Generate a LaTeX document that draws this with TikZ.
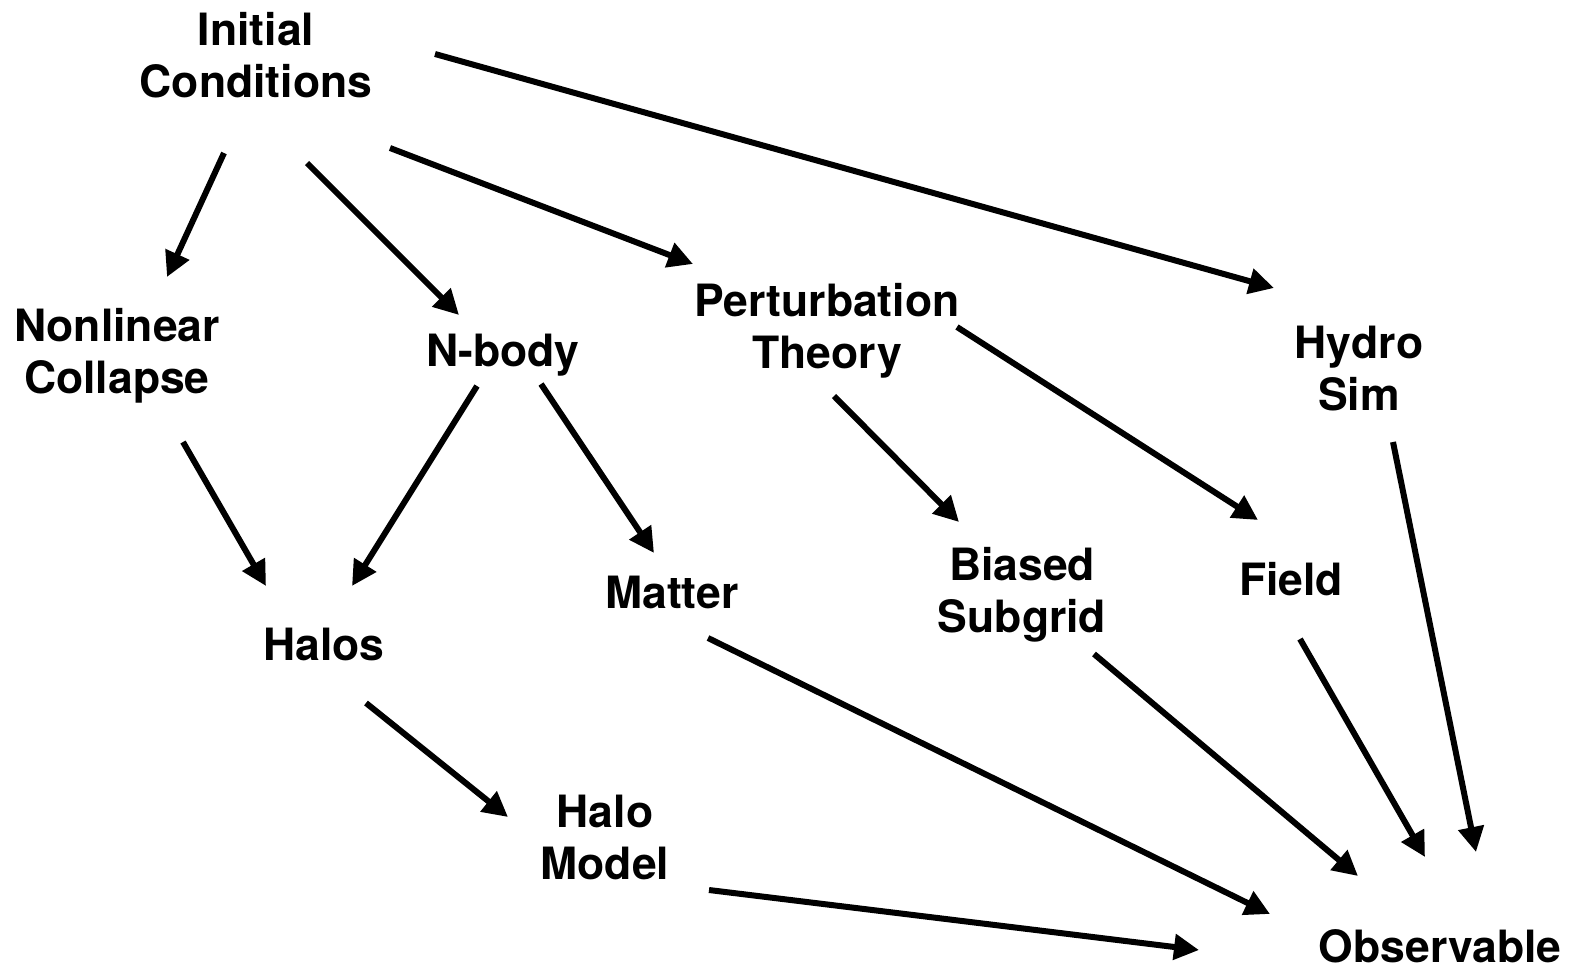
\documentclass[tikz,border=0pt]{standalone}
\usepackage{fontspec}
\setmainfont{TeX Gyre Heros}
\usetikzlibrary{arrows.meta}
\begin{document}
\begin{tikzpicture}[x=1pt,y=-1pt,
  lbl/.style={font=\fontsize{44.5}{52}\selectfont\bfseries, align=center, inner sep=0pt, anchor=base},
  arr/.style={line width=6pt, -{Triangle[length=25pt,width=25pt]}}]
\useasboundingbox (0,0) rectangle (1575,969);
% anchor base = baseline of the last line
\node[lbl] (ic) at (256,97) {Initial\\Conditions};
\node[lbl] (nl) at (117,393) {Nonlinear\\Collapse};
\node[lbl] (nb) at (503,366) {N-body};
\node[lbl] (pt) at (827,368) {Perturbation\\Theory};
\node[lbl] (hs) at (1359,410) {Hydro\\Sim};
\node[lbl] (ha) at (324,660) {Halos};
\node[lbl] (ma) at (672,608) {Matter};
\node[lbl] (bs) at (1022,632) {Biased\\Subgrid};
\node[lbl] (fi) at (1291,595) {Field};
\node[lbl] (hm) at (605,879) {Halo\\Model};
\node[lbl] (ob) at (1440,962) {Observable};
\draw[arr] ([shift={(-32,56)}]ic.base) -- ([shift={(50,-116)}]nl.base);
\draw[arr] ([shift={(51,66)}]ic.base) -- ([shift={(-44,-51)}]nb.base);
\draw[arr] ([shift={(134,51)}]ic.base) -- ([shift={(-134,-104)}]pt.base);
\draw[arr] ([shift={(179,-43)}]ic.base) -- ([shift={(-85,-122)}]hs.base);
\draw[arr] ([shift={(66,49)}]nl.base) -- ([shift={(-58,-74)}]ha.base);
\draw[arr] ([shift={(-26,20)}]nb.base) -- ([shift={(28,-74)}]ha.base);
\draw[arr] ([shift={(38,18)}]nb.base) -- ([shift={(-18,-55)}]ma.base);
\draw[arr] ([shift={(7,28)}]pt.base) -- ([shift={(-63,-110)}]bs.base);
\draw[arr] ([shift={(130,-41)}]pt.base) -- ([shift={(-33,-75)}]fi.base);
\draw[arr] ([shift={(34,32)}]hs.base) -- ([shift={(36,-110)}]ob.base);
\draw[arr] ([shift={(42,43)}]ha.base) -- ([shift={(-97,-62)}]hm.base);
\draw[arr] ([shift={(36,30)}]ma.base) -- ([shift={(-170,-48)}]ob.base);
\draw[arr] ([shift={(72,22)}]bs.base) -- ([shift={(-82,-86)}]ob.base);
\draw[arr] ([shift={(9,44)}]fi.base) -- ([shift={(-15,-105)}]ob.base);
\draw[arr] ([shift={(104,11)}]hm.base) -- ([shift={(-241,-12)}]ob.base);
\end{tikzpicture}
\end{document}
